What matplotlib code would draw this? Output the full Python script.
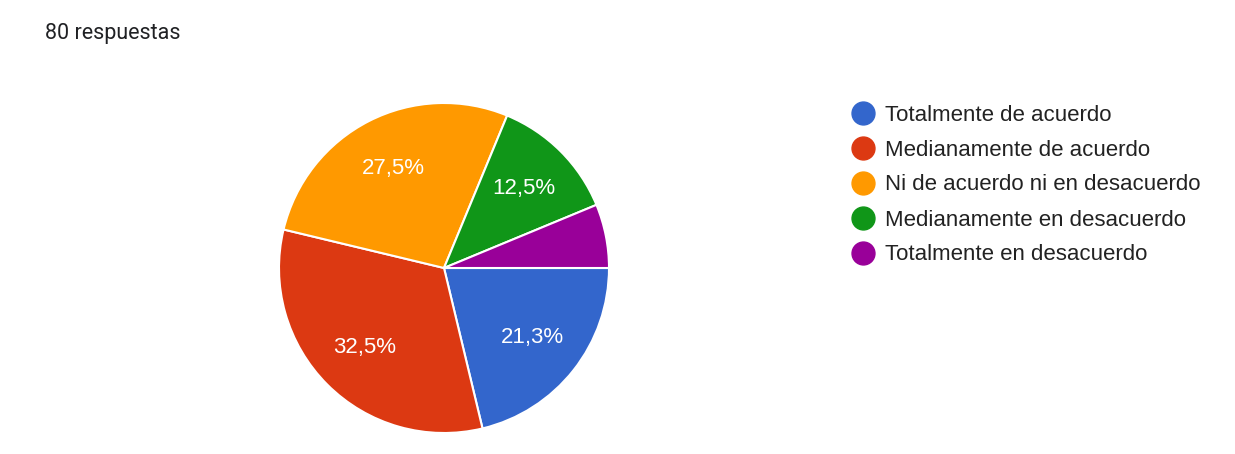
import numpy as np
import matplotlib.pyplot as plt
from matplotlib.lines import Line2D

plt.rcParams['font.family'] = ['Liberation Sans', 'DejaVu Sans']

categories = ["Totalmente de acuerdo", "Medianamente de acuerdo",
              "Ni de acuerdo ni en desacuerdo", "Medianamente en desacuerdo",
              "Totalmente en desacuerdo"]
counts = [17, 26, 22, 10, 5]
colors = ["#3366cc", "#dc3912", "#ff9900", "#109618", "#990099"]
total = sum(counts)


def fmt(p):
    if p < 7:
        return ""
    r = np.floor(p * 10 + 0.5 + 1e-6) / 10
    return f"{r:.1f}".replace(".", ",") + "%"


fig = plt.figure(figsize=(12.35, 4.54), dpi=100)
fig.text(45 / 1235, 1 - 34 / 454, f"{total} respuestas", fontsize=15.5,
         family=["Roboto", "DejaVu Sans"], color="#202124", va="center", ha="left")

ax = fig.add_axes([279 / 1235, 21 / 454, 330 / 1235, 330 / 454])
wedges, texts, autotexts = ax.pie(counts, colors=colors, startangle=0,
                                  counterclock=False, autopct=fmt,
                                  pctdistance=0.68, radius=1,
                                  wedgeprops=dict(edgecolor="white", linewidth=1.5),
                                  textprops=dict(color="white", fontsize=16))
ax.set_xlim(-1, 1)
ax.set_ylim(-1, 1)
ax.set_aspect("equal")
ax.axis("off")

# legend
for i, (lab, col) in enumerate(zip(categories, colors)):
    y = 1 - (113 + 35 * i) / 454
    fig.add_artist(Line2D([863 / 1235], [y], marker="o", markersize=16.5,
                          color=col, linestyle="none", transform=fig.transFigure))
    fig.text(885 / 1235, y - 2 / 454, lab, fontsize=16, color="#222222",
             va="center", ha="left")

fig.savefig("out.png", dpi=100)
